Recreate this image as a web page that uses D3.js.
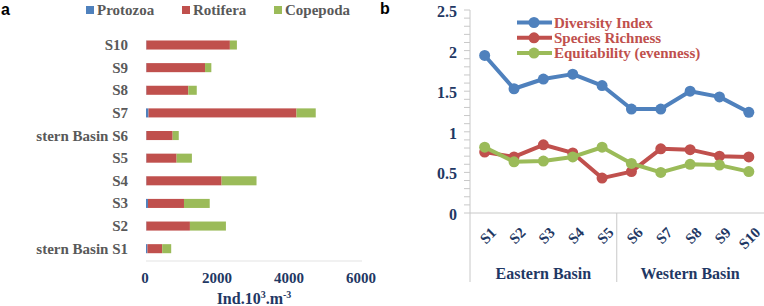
<!DOCTYPE html>
<html lang="en">
<head>
    <meta charset="UTF-8">
    <title>Zooplankton abundance and diversity</title>
    <script src="https://d3js.org/d3.v7.min.js"></script>
    <style>
    body { margin: 0; background: #fff; }
    svg { display: block; }
    </style>
</head>
<body>
<svg id="chart" width="764" height="306"></svg>
<script>
    // ---- data: panel a (stacked bars) ----
    const stations = ["stern Basin S1", "S2", "S3", "S4", "S5", "stern Basin S6", "S7", "S8", "S9", "S10"];
    const protozoa = [40, 10, 55, 10, 10, 10, 70, 10, 10, 10];
    const rotifera = [410, 1210, 1000, 2090, 840, 730, 4110, 1165, 1630, 2320];
    const copepoda = [250, 1000, 715, 970, 425, 170, 535, 235, 175, 195];
    const groups = ["Protozoa", "Rotifera", "Copepoda"];
    const xTicksA = [0, 2000, 4000, 6000];

    // ---- data: panel b (lines) ----
    const sites = ["S1", "S2", "S3", "S4", "S5", "S6", "S7", "S8", "S9", "S10"];
    const diversity = [1.94, 1.53, 1.65, 1.71, 1.57, 1.28, 1.28, 1.50, 1.43, 1.24];
    const richness = [0.75, 0.69, 0.84, 0.74, 0.43, 0.51, 0.79, 0.78, 0.70, 0.69];
    const evenness = [0.81, 0.63, 0.64, 0.69, 0.81, 0.61, 0.50, 0.60, 0.59, 0.51];
    const lineNames = ["Diversity Index", "Species Richness", "Equitability (evenness)"];
    const basins = ["Eastern Basin", "Western Basin"];

    const blue = "#4f81bd", red = "#c0504d", green = "#9bbb59";
    const navy = "#1f3864", gray = "#595959";
    const SERIF = "'Liberation Serif', 'Times New Roman', Times, serif";
    const SANS = "'Liberation Sans', Arial, sans-serif";

    const svg = d3.select("#chart");

    // helper for the bold serif labels used everywhere
    function label(sel, size, color) {
        return sel.attr("font-family", SERIF)
            .attr("font-weight", "bold")
            .attr("font-size", size)
            .attr("fill", color);
    }

    // panel tags
    svg.append("text").attr("x", 1).attr("y", 15).text("a")
        .attr("font-family", SANS).attr("font-weight", "bold").attr("font-size", 16);
    svg.append("text").attr("x", 380).attr("y", 14).text("b")
        .attr("font-family", SANS).attr("font-weight", "bold").attr("font-size", 16);

    // ================= panel a =================
    const xA = d3.scaleLinear().domain([0, 6000]).range([146, 362]);
    const yA = d3.scaleBand()
        .domain(stations.slice().reverse())
        .range([33.7, 260])
        .paddingInner(0.6)
        .paddingOuter(0.3);

    const rows = stations.map((s, i) => ({ s: s, vals: [protozoa[i], rotifera[i], copepoda[i]] }));
    const stackColors = [blue, red, green];

    const gA = svg.append("g");
    rows.forEach(r => {
        let acc = 0;
        r.vals.forEach((v, k) => {
            gA.append("rect")
                .attr("x", xA(acc))
                .attr("y", yA(r.s))
                .attr("width", xA(acc + v) - xA(acc))
                .attr("height", yA.bandwidth())
                .attr("fill", stackColors[k]);
            acc += v;
        });
    });

    // bottom axis line
    gA.append("line")
        .attr("x1", xA(0)).attr("x2", xA(6000))
        .attr("y1", 261).attr("y2", 261)
        .attr("stroke", "#e3e3e3").attr("stroke-width", 1);

    // x tick labels
    label(gA.selectAll(".xt").data(xTicksA).enter().append("text"), 15, navy)
        .attr("x", d => xA(d) - 1)
        .attr("y", 283)
        .attr("text-anchor", "middle")
        .text(d => d);

    // y labels
    label(gA.selectAll(".yl").data(stations).enter().append("text"), 15, gray)
        .attr("x", 128)
        .attr("y", d => yA(d) + yA.bandwidth() / 2 + 5)
        .attr("text-anchor", "end")
        .text(d => d);

    // axis title
    const title = label(gA.append("text"), 16, navy)
        .attr("x", 254)
        .attr("y", 304)
        .attr("text-anchor", "middle");
    title.append("tspan").text("Ind.10");
    title.append("tspan").attr("dy", -6).attr("font-size", 10).text("3");
    title.append("tspan").attr("dy", 6).text(".m");
    title.append("tspan").attr("dy", -6).attr("font-size", 10).text("-3");

    // legend a
    const legX = [86, 182, 274];
    groups.forEach((g, k) => {
        gA.append("rect").attr("x", legX[k]).attr("y", 6).attr("width", 8).attr("height", 8)
            .attr("fill", stackColors[k]);
        label(gA.append("text"), 15, gray)
            .attr("x", legX[k] + 11).attr("y", 15)
            .text(g);
    });

    // ================= panel b =================
    const xB = d3.scaleBand().domain(sites).range([470, 763.5]);
    const yB = d3.scaleLinear().domain([0, 2.5]).range([213, 10]);
    const gB = svg.append("g");

    // minor ticks every 0.1 on y axis
    const yTicksMinor = d3.range(0, 26).map(i => i / 10);
    gB.selectAll(".ytk").data(yTicksMinor).enter().append("line")
        .attr("x1", 464).attr("x2", 470)
        .attr("y1", d => yB(d)).attr("y2", d => yB(d))
        .attr("stroke", "#c8c8c8").attr("stroke-width", 1);

    // y axis line (extends to bottom of category area)
    gB.append("line").attr("x1", 470).attr("x2", 470).attr("y1", 10).attr("y2", 282)
        .attr("stroke", "#c8c8c8");
    // x axis line
    gB.append("line").attr("x1", 470).attr("x2", 764).attr("y1", yB(0)).attr("y2", yB(0))
        .attr("stroke", "#c8c8c8");
    // basin divider
    const divX = xB("S6");
    gB.append("line").attr("x1", divX).attr("x2", divX).attr("y1", yB(0)).attr("y2", 282)
        .attr("stroke", "#c8c8c8");

    // y tick labels
    const yTicksB = [0, 0.5, 1, 1.5, 2, 2.5];
    label(gB.selectAll(".yl").data(yTicksB).enter().append("text"), 16, navy)
        .attr("x", 457)
        .attr("y", d => yB(d) + 7)
        .attr("text-anchor", "end")
        .text(d => d);

    // x tick labels, rotated
    label(gB.selectAll(".xl").data(sites).enter().append("text"), 15, navy)
        .attr("transform", d => `translate(${xB(d) + xB.bandwidth() / 2 + 5},226) rotate(-45)`)
        .attr("text-anchor", "end")
        .attr("dy", "0.7em")
        .text(d => d);

    // basin labels
    basins.forEach((b, k) => {
        const x0 = k === 0 ? xB("S1") : xB("S6");
        label(gB.append("text"), 16, navy)
            .attr("x", x0 + xB.step() * 2.5)
            .attr("y", 279)
            .attr("text-anchor", "middle")
            .text(b);
    });

    // lines
    const series = [
        { name: lineNames[0], vals: diversity, color: blue },
        { name: lineNames[1], vals: richness, color: red },
        { name: lineNames[2], vals: evenness, color: green }
    ];
    const line = d3.line()
        .x((d, i) => xB(sites[i]) + xB.bandwidth() / 2)
        .y(d => yB(d));

    series.forEach(s => {
        gB.append("path")
            .attr("d", line(s.vals))
            .attr("fill", "none")
            .attr("stroke", s.color)
            .attr("stroke-width", 4)
            .attr("stroke-linejoin", "round");
        gB.selectAll(null).data(s.vals).enter().append("circle")
            .attr("cx", (d, i) => xB(sites[i]) + xB.bandwidth() / 2)
            .attr("cy", d => yB(d))
            .attr("r", 5.5)
            .attr("fill", s.color);
    });

    // legend b
    series.forEach((s, k) => {
        const ly = 22.5 + k * 15.3;
        gB.append("line").attr("x1", 517).attr("x2", 552).attr("y1", ly).attr("y2", ly)
            .attr("stroke", s.color).attr("stroke-width", 4);
        gB.append("circle").attr("cx", 534).attr("cy", ly).attr("r", 5.5).attr("fill", s.color);
        label(gB.append("text"), 15, red)
            .attr("x", 554).attr("y", ly + 5)
            .text(s.name);
    });
</script>
</body>
</html>
